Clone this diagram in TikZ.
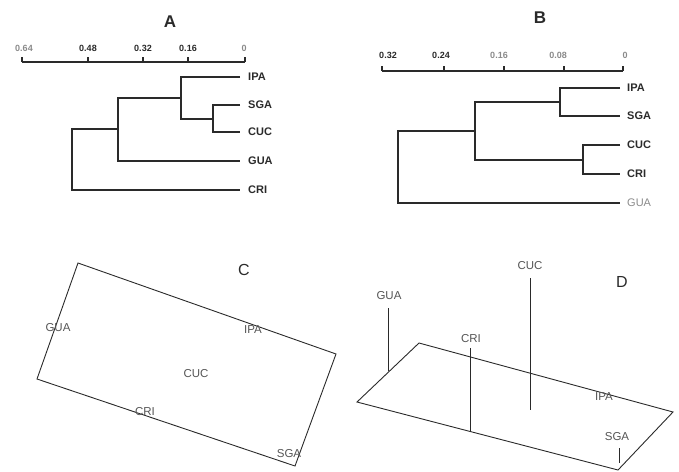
\documentclass[tikz,border=0pt]{standalone}
\usepackage{fontspec}
\setmainfont{Liberation Sans}
\definecolor{ink}{HTML}{2A2A2A}
\definecolor{faded}{HTML}{8A8A8A}
\definecolor{plotgray}{HTML}{555555}
\tikzset{
  branch/.style={draw=ink, line width=1.4pt},
  frame/.style={draw=ink, line width=0.9pt},
  leaf/.style={anchor=west, inner sep=1pt, text=ink, font=\fontsize{11}{11}\selectfont\bfseries},
  ticklab/.style={text=ink, inner sep=0pt, font=\fontsize{9}{9}\selectfont\bfseries},
  panel/.style={text=ink, inner sep=0pt, font=\fontsize{17}{17}\selectfont\bfseries},
  panelreg/.style={text=ink, inner sep=0pt, font=\fontsize{16}{16}\selectfont},
  site/.style={text=plotgray, inner sep=0pt, font=\fontsize{11.5}{12}\selectfont},
}
\begin{document}
\begin{tikzpicture}[x=1pt, y=-1pt]
\useasboundingbox (0,0) rectangle (679,471);

% ---- panel A: dendrogram ----
\node[panel] (titleA) at (170,22) {A};
\coordinate (axA0) at (22,62);
\coordinate (axA1) at (245,62);
\path[branch] (axA0) -- (axA1);
\path[branch] (22,57) -- (22,62);
\path[branch] (88,57) -- (88,62);
\path[branch] (143,57) -- (143,62);
\path[branch] (188,57) -- (188,62);
\path[branch] (245,57) -- (245,62);
\node[ticklab, text=faded] (tA064) at (24,48) {0.64};
\node[ticklab] (tA048) at (88,48) {0.48};
\node[ticklab] (tA032) at (143,48) {0.32};
\node[ticklab] (tA016) at (188,48) {0.16};
\node[ticklab, text=faded] (tA000) at (244,48) {0};

\coordinate (eA-ipa) at (240,77);
\coordinate (eA-sga) at (240,105);
\coordinate (eA-cuc) at (240,132);
\coordinate (eA-gua) at (240,161);
\coordinate (eA-cri) at (240,190);
\node[leaf] (lA-ipa) at (247,77) {IPA};
\node[leaf] (lA-sga) at (247,105) {SGA};
\node[leaf] (lA-cuc) at (247,132) {CUC};
\node[leaf] (lA-gua) at (247,161) {GUA};
\node[leaf] (lA-cri) at (247,190) {CRI};

\coordinate (jA1) at (213,119);
\coordinate (jA2) at (181,98);
\coordinate (jA3) at (118,129);
\coordinate (jA4) at (72,160);

\path[branch] (eA-sga) -| (jA1) |- (eA-cuc);
\path[branch] (eA-ipa) -| (jA2) |- (jA1);
\path[branch] (jA2) -| (jA3) |- (eA-gua);
\path[branch] (jA3) -| (jA4) |- (eA-cri);

% ---- panel B: dendrogram ----
\node[panel] (titleB) at (540,18) {B};
\coordinate (axB0) at (382,71);
\coordinate (axB1) at (623,71);
\path[branch] (axB0) -- (axB1);
\path[branch] (382,66) -- (382,71);
\path[branch] (444,66) -- (444,71);
\path[branch] (504,66) -- (504,71);
\path[branch] (564,66) -- (564,71);
\path[branch] (623,66) -- (623,71);
\node[ticklab] (tB032) at (388,55) {0.32};
\node[ticklab] (tB024) at (441,55) {0.24};
\node[ticklab, text=faded] (tB016) at (499,55) {0.16};
\node[ticklab, text=faded] (tB008) at (558,55) {0.08};
\node[ticklab, text=faded] (tB000) at (625,55) {0};

\coordinate (eB-ipa) at (620,88);
\coordinate (eB-sga) at (620,116);
\coordinate (eB-cuc) at (620,145);
\coordinate (eB-cri) at (620,174);
\coordinate (eB-gua) at (620,203);
\node[leaf] (lB-ipa) at (626,88) {IPA};
\node[leaf] (lB-sga) at (626,116) {SGA};
\node[leaf] (lB-cuc) at (626,145) {CUC};
\node[leaf] (lB-cri) at (626,174) {CRI};
\node[leaf, text=faded, font=\fontsize{11}{11}\selectfont] (lB-gua) at (626,203) {GUA};

\coordinate (jB1) at (560,102);
\coordinate (jB2) at (583,160);
\coordinate (jB3) at (475,131);
\coordinate (jB4) at (398,167);

\path[branch] (eB-ipa) -| (jB1) |- (eB-sga);
\path[branch] (eB-cuc) -| (jB2) |- (eB-cri);
\path[branch] (jB1) -| (jB3) |- (jB2);
\path[branch] (jB3) -| (jB4) |- (eB-gua);

% ---- panel C: ordination plane ----
\node[panelreg] (titleC) at (244,270) {C};
\coordinate (cTL) at (78,263);
\coordinate (cR) at (336,354);
\coordinate (cBR) at (295,466);
\coordinate (cL) at (37,379);
\path[frame] (cTL) -- (cR) -- (cBR) -- (cL) -- cycle;
\node[site] (cGUA) at (58,328) {GUA};
\node[site] (cIPA) at (253,330) {IPA};
\node[site] (cCUC) at (196,374) {CUC};
\node[site] (cCRI) at (145,412) {CRI};
\node[site] (cSGA) at (289,454) {SGA};

% ---- panel D: 3-D ordination ----
\node[panelreg] (titleD) at (622,282) {D};
\coordinate (dL) at (357,402);
\coordinate (dT) at (419,343);
\coordinate (dR) at (673,412);
\coordinate (dB) at (618,470);
\path[frame] (dL) -- (dT) -- (dR) -- (dB) -- cycle;
\node[site] (dGUA) at (389,296) {GUA};
\node[site] (dCRI) at (471,339) {CRI};
\node[site] (dCUC) at (530,266) {CUC};
\node[site] (dIPA) at (604,397) {IPA};
\node[site] (dSGA) at (617,437) {SGA};
\path[frame] (388,308) -- (388,371);
\path[frame] (470,348) -- (470,432);
\path[frame] (530,278) -- (530,410);
\path[frame] (619,448) -- (619,463);
\end{tikzpicture}
\end{document}
